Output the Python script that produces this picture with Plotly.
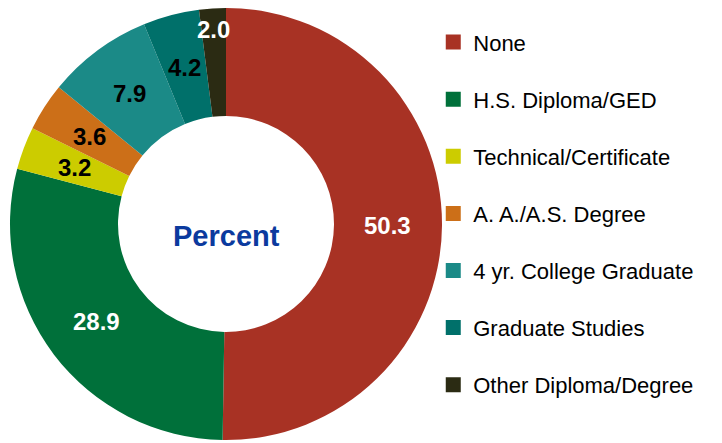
import math
import plotly.graph_objects as go

categories = ["None", "H.S. Diploma/GED", "Technical/Certificate", "A. A./A.S. Degree",
              "4 yr. College Graduate", "Graduate Studies", "Other Diploma/Degree"]
values = [50.3, 28.9, 3.2, 3.6, 7.9, 4.2, 2.0]
colors = ["#A83224", "#00703A", "#CCCC00", "#CC6F18", "#1B8A87", "#00706A", "#2B2B13"]
text_colors = ["white", "white", "black", "black", "black", "black", "white"]
label_radius = [0.75, 0.75, 0.75, 0.75, 0.75, 0.75, 0.9]

W, H = 722, 443
OFF = 8  # page body margin offset
# pie placement (page pixels)
cx, cy, r = 226, 224, 216


def px_to_paper(x, y):
    return (x - OFF) / W, 1 - (y - OFF) / H


x0, y0 = px_to_paper(cx - r, cy + r)
x1, y1 = px_to_paper(cx + r, cy - r)

fig = go.Figure()
fig.add_trace(go.Pie(
    labels=categories, values=values, sort=False, direction="clockwise", rotation=0,
    hole=0.5, marker=dict(colors=colors, line=dict(width=0)),
    textinfo="none", showlegend=False,
    domain=dict(x=[x0, x1], y=[max(y0, 0), y1]),
))
for i, (c, col) in enumerate(zip(categories, colors)):
    fig.add_trace(go.Scatter(
        x=[None], y=[None], mode="markers", name=c, legendgroup=str(i),
        marker=dict(symbol="square", size=15, color=col, line=dict(width=0)),
    ))

# value labels placed at each slice's mid-angle
total = sum(values)
annotations = []
cum = 0.0
for v, tc, rf in zip(values, text_colors, label_radius):
    mid = (cum + v / 2) / total * 2 * math.pi
    cum += v
    ax, ay = px_to_paper(cx + r * rf * math.sin(mid), cy - r * rf * math.cos(mid))
    annotations.append(dict(text=f"<b>{v:.1f}</b>", x=ax, y=ay, xanchor="center", yanchor="middle",
                            xref="paper", yref="paper", showarrow=False,
                            font=dict(family="Liberation Sans", size=24, color=tc)))
px_, py_ = px_to_paper(cx, 236)
annotations.append(dict(text="<b>Percent</b>", x=px_, y=py_, xanchor="center", yanchor="middle",
                        xref="paper", yref="paper", showarrow=False,
                        font=dict(family="Liberation Sans", size=29, color="#0B3A9E")))

fig.update_layout(
    width=W, height=H, margin=dict(l=0, r=0, t=0, b=0), autosize=False,
    paper_bgcolor="white", plot_bgcolor="white",
    xaxis=dict(visible=False), yaxis=dict(visible=False),
    legend=dict(x=0.589, y=0.970, xanchor="left", yanchor="top", tracegroupgap=25.5,
                font=dict(family="Liberation Sans", size=22, color="black"),
                itemwidth=30, bgcolor="rgba(0,0,0,0)"),
    annotations=annotations,
)
fig.write_html("out.html")
